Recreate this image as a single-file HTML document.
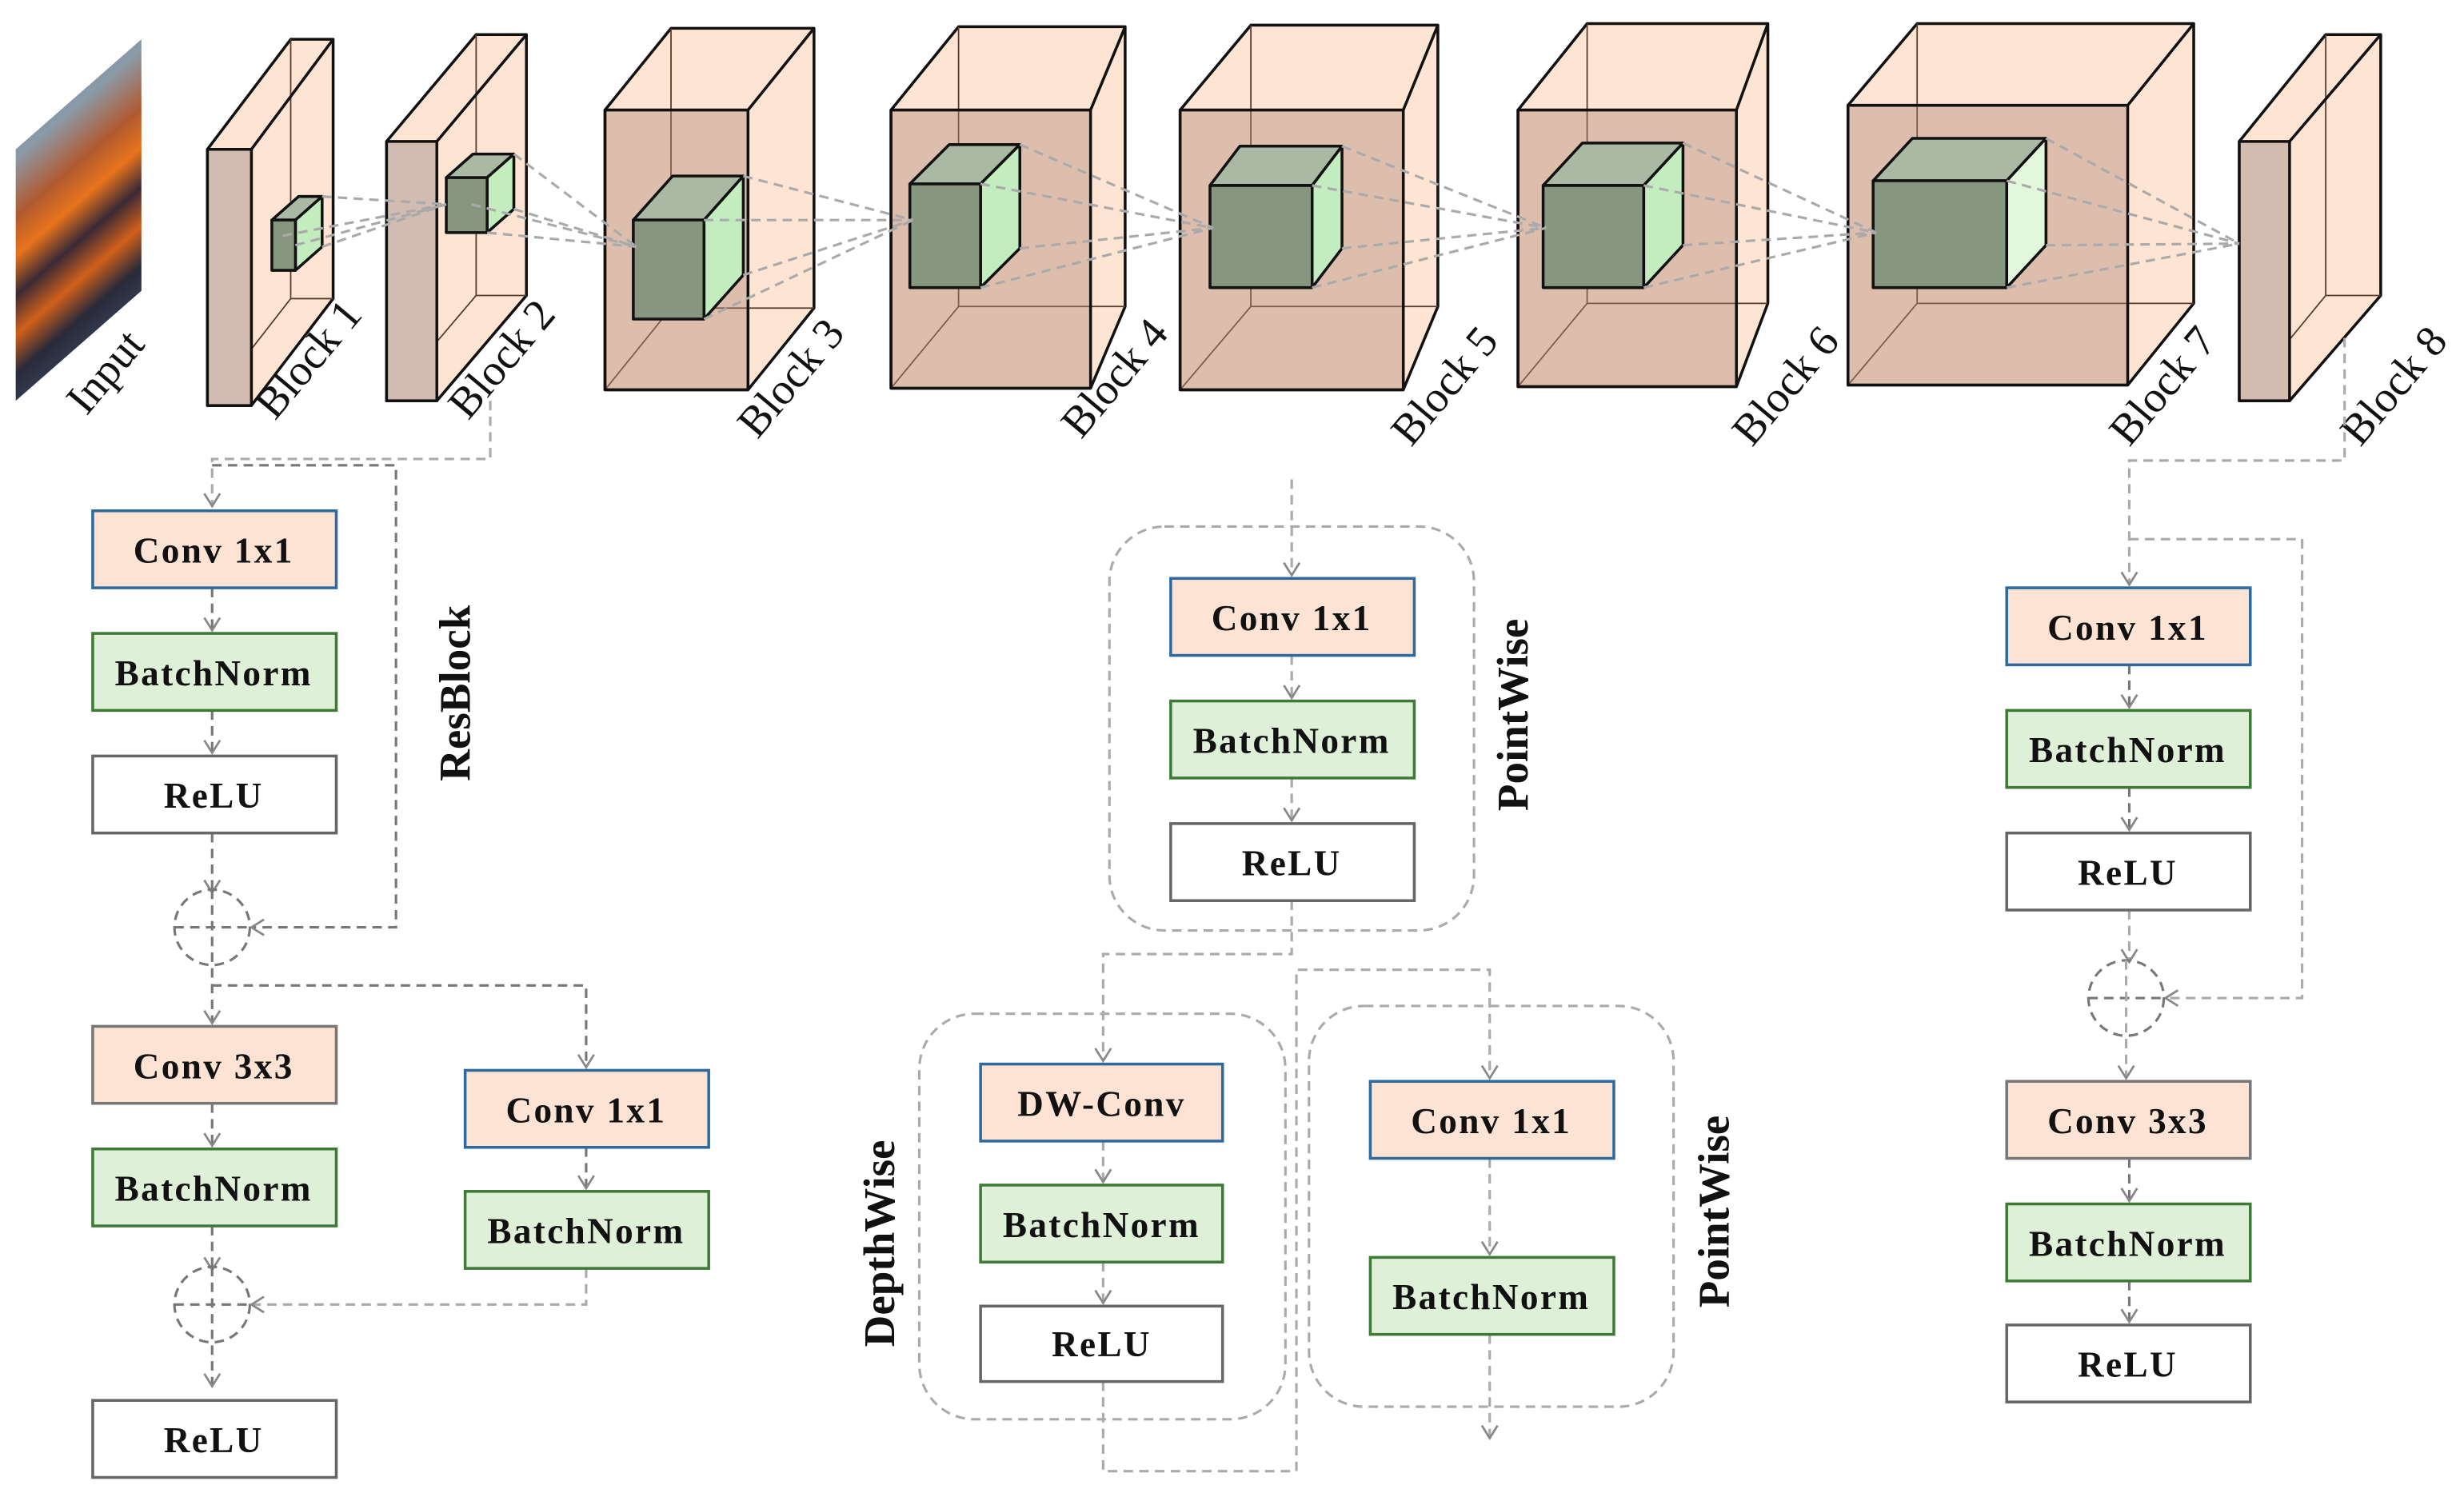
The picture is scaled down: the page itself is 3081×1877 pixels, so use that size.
<!DOCTYPE html>
<html><head><meta charset="utf-8"><style>
html,body{margin:0;padding:0;background:#fff;}
svg{display:block;}
.bx{font-family:"Liberation Serif",serif;font-weight:bold;font-size:23px;letter-spacing:1.2px;text-anchor:middle;fill:#111;}
.lb{font-family:"Liberation Serif",serif;font-size:28px;fill:#111;}
.tl{font-family:"Liberation Serif",serif;font-weight:bold;font-size:28px;fill:#111;}
.d{stroke:#aaa;stroke-width:1.6;stroke-dasharray:6,4;fill:none;}
.dd{stroke:#777;stroke-width:1.6;stroke-dasharray:6,4;fill:none;}
.hid{stroke:#5a3a2a;stroke-width:0.9;fill:none;}
</style></head><body>
<svg width="3081" height="1877" viewBox="0 0 1568 955" preserveAspectRatio="none" xmlns="http://www.w3.org/2000/svg">
<defs>
<marker id="a" markerWidth="12" markerHeight="12" refX="9" refY="6" orient="auto" markerUnits="userSpaceOnUse">
<path d="M1,1 L9,6 L1,11" fill="none" stroke="#888" stroke-width="1.4"/></marker>
<linearGradient id="img" x1="0" y1="0" x2="0.3" y2="1">
<stop offset="0" stop-color="#6f8196"/><stop offset="0.3" stop-color="#8a9aa8"/>
<stop offset="0.45" stop-color="#b05a30"/><stop offset="0.55" stop-color="#e8731c"/>
<stop offset="0.65" stop-color="#3a2a35"/><stop offset="0.75" stop-color="#d0601a"/>
<stop offset="0.85" stop-color="#2a2a3a"/><stop offset="1" stop-color="#3a4a60"/></linearGradient>
</defs>

<polygon points="10,95 90,25 90,185 10,255" fill="url(#img)"/>
<text class="lb" transform="translate(55,265) rotate(-50)">Input</text>

<g stroke="#111" stroke-width="1.8" stroke-linejoin="round">
<polygon points="132,95 185,25 212,25 212,190 160,258 132,258" fill="#fde4d3"/>
<path class="hid" d="M185,25 V190 H212 M132,258 L185,190"/>
<rect x="132" y="95" width="28" height="163" fill="#d2bcb1"/>
<path d="M160,95 L212,25" fill="none"/>
<polygon points="246,90 303,22 335,22 335,188 278,255 246,255" fill="#fde4d3"/>
<path class="hid" d="M303,22 V188 H335 M246,255 L303,188"/>
<rect x="246" y="90" width="32" height="165" fill="#d2bcb1"/>
<path d="M278,90 L335,22" fill="none"/>
<polygon points="385,70 427,18 518,18 518,196 476,248 385,248" fill="#fde4d3"/>
<path class="hid" d="M427,18 V196 H518 M385,248 L427,196"/>
<rect x="385" y="70" width="91" height="178" fill="#b08b7a" fill-opacity="0.42"/>
<path d="M476,70 L518,18" fill="none"/>
<polygon points="567,70 610,17 716,17 716,195 694,247 567,247" fill="#fde4d3"/>
<path class="hid" d="M610,17 V195 H716 M567,247 L610,195"/>
<rect x="567" y="70" width="127" height="177" fill="#b08b7a" fill-opacity="0.42"/>
<path d="M694,70 L716,17" fill="none"/>
<polygon points="751,70 796,16 915,16 915,195 893,248 751,248" fill="#fde4d3"/>
<path class="hid" d="M796,16 V195 H915 M751,248 L796,195"/>
<rect x="751" y="70" width="142" height="178" fill="#b08b7a" fill-opacity="0.42"/>
<path d="M893,70 L915,16" fill="none"/>
<polygon points="966,70 1010,15 1125,15 1125,193 1105,246 966,246" fill="#fde4d3"/>
<path class="hid" d="M1010,15 V193 H1125 M966,246 L1010,193"/>
<rect x="966" y="70" width="139" height="176" fill="#b08b7a" fill-opacity="0.42"/>
<path d="M1105,70 L1125,15" fill="none"/>
<polygon points="1176,67 1220,15 1396,15 1396,193 1354,245 1176,245" fill="#fde4d3"/>
<path class="hid" d="M1220,15 V193 H1396 M1176,245 L1220,193"/>
<rect x="1176" y="67" width="178" height="178" fill="#b08b7a" fill-opacity="0.42"/>
<path d="M1354,67 L1396,15" fill="none"/>
<polygon points="1425,90 1480,22 1515,22 1515,188 1457,255 1425,255" fill="#fde4d3"/>
<path class="hid" d="M1480,22 V188 H1515 M1425,255 L1480,188"/>
<rect x="1425" y="90" width="32" height="165" fill="#d2bcb1"/>
<path d="M1457,90 L1515,22" fill="none"/>
</g>

<g stroke="#111" stroke-width="1.8" stroke-linejoin="round">
<polygon points="173,140 190,125 205,125 188,140" fill="#a9b9a3"/><polygon points="188,140 205,125 205,157 188,172" fill="#c3ecbf"/><rect x="173" y="140" width="15" height="32" fill="#87977f"/>
<polygon points="284,113 301,98 327,98 310,113" fill="#a9b9a3"/><polygon points="310,113 327,98 327,133 310,148" fill="#c3ecbf"/><rect x="284" y="113" width="26" height="35" fill="#87977f"/>
<polygon points="403,140 428,112 473,112 448,140" fill="#a9b9a3"/><polygon points="448,140 473,112 473,175 448,203" fill="#c3ecbf"/><rect x="403" y="140" width="45" height="63" fill="#87977f"/>
<polygon points="579,117 604,92 649,92 624,117" fill="#a9b9a3"/><polygon points="624,117 649,92 649,158 624,183" fill="#c3ecbf"/><rect x="579" y="117" width="45" height="66" fill="#87977f"/>
<polygon points="770,118 789,93 854,93 835,118" fill="#a9b9a3"/><polygon points="835,118 854,93 854,158 835,183" fill="#c3ecbf"/><rect x="770" y="118" width="65" height="65" fill="#87977f"/>
<polygon points="982,118 1007,91 1071,91 1046,118" fill="#a9b9a3"/><polygon points="1046,118 1071,91 1071,156 1046,183" fill="#c3ecbf"/><rect x="982" y="118" width="64" height="65" fill="#87977f"/>
<polygon points="1192,115 1217,88 1302,88 1277,115" fill="#a9b9a3"/><polygon points="1277,115 1302,88 1302,156 1277,183" fill="#e3f7dc"/><rect x="1192" y="115" width="85" height="68" fill="#87977f"/>
</g>

<g class="d" stroke-width="1.3">
<path d="M205,125 L284,130 M188,156 L284,130 M205,157 L284,130 M180,150 L284,130"/>
<path d="M327,98 L405,157 M310,148 L405,157 M327,133 L405,157 M300,130 L405,157"/>
<path d="M473,112 L581,140 M448,140 L581,140 M473,175 L581,140 M448,203 L581,140"/>
<path d="M649,92 L772,145 M624,117 L772,145 M649,158 L772,145 M624,183 L772,145"/>
<path d="M854,93 L984,145 M835,118 L984,145 M854,158 L984,145 M835,183 L984,145"/>
<path d="M1071,91 L1194,148 M1046,118 L1194,148 M1071,156 L1194,148 M1046,183 L1194,148"/>
<path d="M1302,88 L1425,155 M1277,115 L1425,155 M1302,156 L1425,155 M1277,183 L1425,155"/>
</g>

<text class="lb" transform="translate(175,268) rotate(-50)">Block 1</text>
<text class="lb" transform="translate(298,268) rotate(-50)">Block 2</text>
<text class="lb" transform="translate(482,280) rotate(-50)">Block 3</text>
<text class="lb" transform="translate(688,280) rotate(-50)">Block 4</text>
<text class="lb" transform="translate(898,285) rotate(-50)">Block 5</text>
<text class="lb" transform="translate(1115,285) rotate(-50)">Block 6</text>
<text class="lb" transform="translate(1355,285) rotate(-50)">Block 7</text>
<text class="lb" transform="translate(1502,285) rotate(-50)">Block 8</text>

<path class="d" d="M312,255 V292 H135 V322" marker-end="url(#a)"/>
<path class="dd" d="M135,296 H252 V590 H160" marker-end="url(#a)"/>
<path class="dd" d="M135,374 V401" marker-end="url(#a)"/>
<path class="dd" d="M135,452 V479" marker-end="url(#a)"/>
<path class="dd" d="M135,530 V568" marker-end="url(#a)"/>
<circle cx="135" cy="590" r="24" class="dd"/>
<path class="dd" d="M111,590 H159 M135,566 V651" marker-end="url(#a)"/>
<path class="dd" d="M135,627 H373 V679" marker-end="url(#a)"/>
<path class="dd" d="M135,702 V729" marker-end="url(#a)"/>
<path class="dd" d="M135,780 V808" marker-end="url(#a)"/>
<circle cx="135" cy="830" r="24" class="dd"/>
<path class="dd" d="M111,830 H159 M135,806 V882" marker-end="url(#a)"/>
<path class="dd" d="M373,730 V756" marker-end="url(#a)"/>
<path class="d" d="M373,807 V830 H160" marker-end="url(#a)"/>

<g stroke-width="1.8">
<rect x="59" y="325" width="155" height="49" fill="#fde3d3" stroke="#2d6aa0"/>
<rect x="59" y="403" width="155" height="49" fill="#def0d8" stroke="#3e7a36"/>
<rect x="59" y="481" width="155" height="49" fill="#fff" stroke="#666"/>
<rect x="59" y="653" width="155" height="49" fill="#fde3d3" stroke="#777"/>
<rect x="59" y="731" width="155" height="49" fill="#def0d8" stroke="#3e7a36"/>
<rect x="59" y="891" width="155" height="49" fill="#fff" stroke="#666"/>
<rect x="296" y="681" width="155" height="49" fill="#fde3d3" stroke="#2d6aa0"/>
<rect x="296" y="758" width="155" height="49" fill="#def0d8" stroke="#3e7a36"/>
</g>
<text class="bx" x="136" y="358">Conv 1x1</text>
<text class="bx" x="136" y="436">BatchNorm</text>
<text class="bx" x="136" y="514">ReLU</text>
<text class="bx" x="136" y="686">Conv 3x3</text>
<text class="bx" x="136" y="764">BatchNorm</text>
<text class="bx" x="136" y="924">ReLU</text>
<text class="bx" x="373" y="714">Conv 1x1</text>
<text class="bx" x="373" y="791">BatchNorm</text>
<text class="tl" transform="translate(299,497) rotate(-90)">ResBlock</text>

<rect x="706" y="335" width="232" height="257" rx="35" class="d"/>
<rect x="585" y="645" width="233" height="258" rx="35" class="d"/>
<rect x="833" y="640" width="232" height="255" rx="35" class="d"/>
<path class="d" d="M822,305 V366" marker-end="url(#a)"/>
<path class="d" d="M822,417 V444" marker-end="url(#a)"/>
<path class="d" d="M822,495 V522" marker-end="url(#a)"/>
<path class="d" d="M822,573 V607 H702 V675" marker-end="url(#a)"/>
<path class="d" d="M702,726 V752" marker-end="url(#a)"/>
<path class="d" d="M702,803 V829" marker-end="url(#a)"/>
<path class="d" d="M702,879 V936 H825 V617 H948 V686" marker-end="url(#a)"/>
<path class="d" d="M948,737 V798" marker-end="url(#a)"/>
<path class="d" d="M948,849 V915" marker-end="url(#a)"/>
<g stroke-width="1.8">
<rect x="745" y="368" width="155" height="49" fill="#fde3d3" stroke="#2d6aa0"/>
<rect x="745" y="446" width="155" height="49" fill="#def0d8" stroke="#3e7a36"/>
<rect x="745" y="524" width="155" height="49" fill="#fff" stroke="#666"/>
<rect x="624" y="677" width="154" height="49" fill="#fde3d3" stroke="#2d6aa0"/>
<rect x="624" y="754" width="154" height="49" fill="#def0d8" stroke="#3e7a36"/>
<rect x="624" y="831" width="154" height="48" fill="#fff" stroke="#666"/>
<rect x="872" y="688" width="155" height="49" fill="#fde3d3" stroke="#2d6aa0"/>
<rect x="872" y="800" width="155" height="49" fill="#def0d8" stroke="#3e7a36"/>
</g>
<text class="bx" x="822" y="401">Conv 1x1</text>
<text class="bx" x="822" y="479">BatchNorm</text>
<text class="bx" x="822" y="557">ReLU</text>
<text class="bx" x="701" y="710">DW-Conv</text>
<text class="bx" x="701" y="787">BatchNorm</text>
<text class="bx" x="701" y="863">ReLU</text>
<text class="bx" x="949" y="721">Conv 1x1</text>
<text class="bx" x="949" y="833">BatchNorm</text>
<text class="tl" transform="translate(972,516) rotate(-90)">PointWise</text>
<text class="tl" transform="translate(569,857) rotate(-90)">DepthWise</text>
<text class="tl" transform="translate(1100,832) rotate(-90)">PointWise</text>

<path class="d" d="M1492,215 V293 H1355 V372" marker-end="url(#a)"/>
<path class="d" d="M1355,343 H1465 V635 H1378" marker-end="url(#a)"/>
<path class="dd" d="M1355,423 V450" marker-end="url(#a)"/>
<path class="dd" d="M1355,501 V528" marker-end="url(#a)"/>
<path class="d" d="M1355,579 V612" marker-end="url(#a)"/>
<circle cx="1353" cy="635" r="24" class="dd"/>
<path class="dd" d="M1329,635 H1377"/>
<path class="d" d="M1353,611 V686" marker-end="url(#a)"/>
<path class="dd" d="M1355,737 V764" marker-end="url(#a)"/>
<path class="dd" d="M1355,815 V841" marker-end="url(#a)"/>
<g stroke-width="1.8">
<rect x="1277" y="374" width="155" height="49" fill="#fde3d3" stroke="#2d6aa0"/>
<rect x="1277" y="452" width="155" height="49" fill="#def0d8" stroke="#3e7a36"/>
<rect x="1277" y="530" width="155" height="49" fill="#fff" stroke="#666"/>
<rect x="1277" y="688" width="155" height="49" fill="#fde3d3" stroke="#777"/>
<rect x="1277" y="766" width="155" height="49" fill="#def0d8" stroke="#3e7a36"/>
<rect x="1277" y="843" width="155" height="49" fill="#fff" stroke="#666"/>
</g>
<text class="bx" x="1354" y="407">Conv 1x1</text>
<text class="bx" x="1354" y="485">BatchNorm</text>
<text class="bx" x="1354" y="563">ReLU</text>
<text class="bx" x="1354" y="721">Conv 3x3</text>
<text class="bx" x="1354" y="799">BatchNorm</text>
<text class="bx" x="1354" y="876">ReLU</text>
</svg>
</body></html>
